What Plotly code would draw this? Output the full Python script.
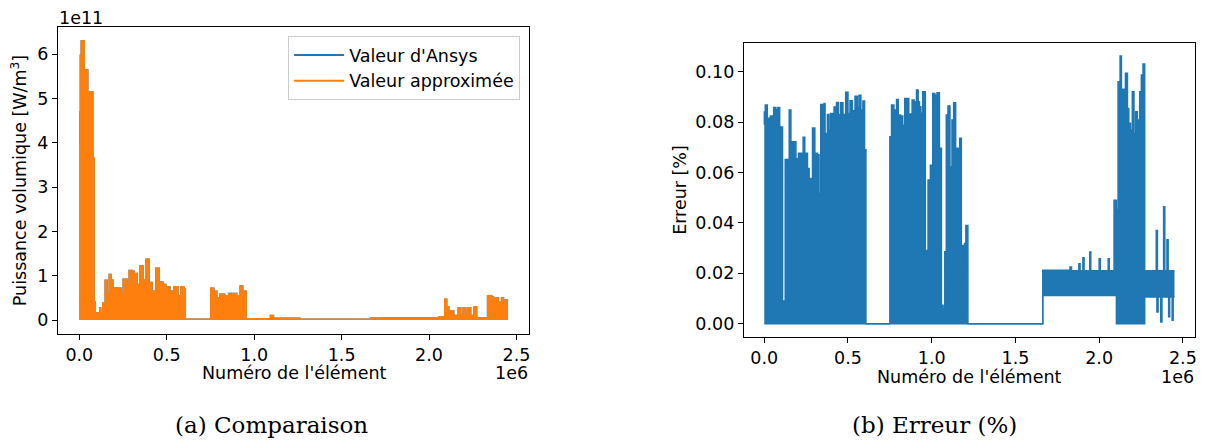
import plotly.graph_objects as go

# ---------------- data ----------------
# Left panel: upper envelope of the volumetric power (x in 1e6 elements, value in 1e11 W/m3)
puis_x = [0.000, 0.003, 0.006, 0.011, 0.028, 0.034, 0.048, 0.054, 0.077, 0.085,
          0.091, 0.108, 0.117, 0.122, 0.134, 0.148, 0.159, 0.171, 0.182, 0.194,
          0.222, 0.239, 0.251, 0.273, 0.285, 0.302, 0.313, 0.330, 0.347, 0.364,
          0.382, 0.399, 0.416, 0.438, 0.456, 0.478, 0.495, 0.518, 0.541, 0.564,
          0.581, 0.598, 0.606, 0.752, 0.769, 0.786, 0.803, 0.831, 0.854, 0.883,
          0.900, 0.920, 0.934, 0.954, 1.093, 1.110, 1.260, 1.667, 2.056, 2.090,
          2.101, 2.113, 2.141, 2.167, 2.181, 2.195, 2.210, 2.221, 2.238, 2.258,
          2.272, 2.335, 2.358, 2.369, 2.380, 2.397, 2.415, 2.426, 2.437, 2.452]
puis_ansys = [4.0, 4.7, 5.98, 6.3, 4.78, 5.65, 3.65, 5.15, 3.65, 0.41,
              0.16, 0.12, 0.27, 0.15, 0.38, 0.9, 0.6, 1.03, 0.9, 0.73,
              0.72, 0.6, 0.92, 0.8, 1.12, 1.1, 1.05, 0.8, 1.22, 0.9,
              1.37, 0.85, 0.65, 1.17, 0.86, 0.8, 0.75, 0.65, 0.75, 0.55,
              0.75, 0.7, 0.02, 0.72, 0.65, 0.5, 0.58, 0.55, 0.6, 0.6,
              0.55, 0.77, 0.65, 0.03, 0.1, 0.04, 0.02, 0.05, 0.07, 0.47,
              0.3, 0.21, 0.1, 0.27, 0.1, 0.27, 0.1, 0.28, 0.1, 0.3,
              0.05, 0.55, 0.52, 0.45, 0.5, 0.4, 0.5, 0.4, 0.45, 0.45]
puis_approx = [4.0, 4.7, 5.98, 6.3, 4.78, 5.65, 3.65, 5.15, 3.65, 0.41,
               0.16, 0.12, 0.27, 0.15, 0.38, 0.9, 0.6, 1.03, 0.9, 0.73,
               0.72, 0.6, 0.92, 0.8, 1.12, 1.1, 1.05, 0.8, 1.22, 0.9,
               1.37, 0.85, 0.65, 1.17, 0.86, 0.8, 0.75, 0.65, 0.75, 0.55,
               0.75, 0.7, 0.02, 0.72, 0.65, 0.5, 0.58, 0.55, 0.6, 0.6,
               0.55, 0.77, 0.65, 0.03, 0.1, 0.04, 0.02, 0.05, 0.07, 0.47,
               0.3, 0.21, 0.1, 0.27, 0.1, 0.27, 0.1, 0.28, 0.1, 0.3,
               0.05, 0.55, 0.52, 0.45, 0.5, 0.4, 0.5, 0.4, 0.45, 0.45]

# Right panel: upper / lower envelope of the error (%)
err_hi_x = [0.000, 0.0004, 0.006, 0.018, 0.036, 0.056, 0.069, 0.081, 0.092, 0.096,
            0.109, 0.125, 0.149, 0.159, 0.165, 0.189, 0.204, 0.232, 0.242, 0.258,
            0.268, 0.282, 0.288, 0.302, 0.318, 0.327, 0.337, 0.357, 0.363, 0.377,
            0.387, 0.397, 0.417, 0.431, 0.443, 0.456, 0.470, 0.486, 0.500, 0.512,
            0.526, 0.542, 0.556, 0.566, 0.577, 0.589, 0.599, 0.607, 0.750, 0.760,
            0.774, 0.790, 0.800, 0.814, 0.827, 0.839, 0.863, 0.869, 0.883, 0.895,
            0.909, 0.919, 0.927, 0.935, 0.946, 0.962, 0.968, 0.978, 0.992, 1.006,
            1.018, 1.032, 1.046, 1.058, 1.068, 1.078, 1.087, 1.097, 1.109, 1.121,
            1.131, 1.143, 1.149, 1.167, 1.177, 1.190, 1.196, 1.204, 1.216, 1.663,
            1.826, 1.835, 1.879, 1.886, 1.903, 1.910, 1.944, 1.950, 2.000, 2.007,
            2.054, 2.060, 2.089, 2.103, 2.113, 2.125, 2.133, 2.139, 2.157, 2.169,
            2.177, 2.187, 2.198, 2.208, 2.218, 2.228, 2.242, 2.252, 2.262, 2.272,
            2.341, 2.348, 2.385, 2.392, 2.405, 2.412, 2.450]
err_hi_v = [0.079, 0.084, 0.0868, 0.0815, 0.0824, 0.0858, 0.0850, 0.0858, 0.009, 0.0781,
            0.009, 0.0652, 0.0848, 0.060, 0.0722, 0.0655, 0.0676, 0.074, 0.0676, 0.0616,
            0.0576, 0.0516, 0.0777, 0.0676, 0.067, 0.0517, 0.087, 0.0874, 0.0755, 0.083,
            0.077, 0.0834, 0.086, 0.0878, 0.083, 0.0877, 0.083, 0.0919, 0.0834, 0.0885,
            0.0845, 0.0903, 0.0858, 0.0907, 0.0848, 0.0884, 0.069, 0.0, 0.0742, 0.0868,
            0.0848, 0.089, 0.0828, 0.0824, 0.0788, 0.0894, 0.0755, 0.0832, 0.0888, 0.0881,
            0.0927, 0.0881, 0.0861, 0.0835, 0.0920, 0.0219, 0.029, 0.057, 0.0629, 0.0914,
            0.0908, 0.0917, 0.0696, 0.0073, 0.006, 0.0285, 0.0828, 0.0864, 0.0623, 0.0808,
            0.0877, 0.014, 0.0696, 0.0736, 0.031, 0.025, 0.0318, 0.039, 0.0, 0.0212,
            0.0225, 0.021, 0.0238, 0.021, 0.0262, 0.021, 0.0284, 0.021, 0.0258, 0.021,
            0.0258, 0.021, 0.049, 0.0453, 0.096, 0.1062, 0.0755, 0.093, 0.0994, 0.0854,
            0.0795, 0.0769, 0.092, 0.0755, 0.0841, 0.0808, 0.092, 0.0987, 0.1031, 0.021,
            0.037, 0.021, 0.0464, 0.021, 0.0333, 0.021, 0.021]
err_lo_x = [0.000, 1.663, 2.103, 2.272, 2.345, 2.352, 2.368, 2.375, 2.415, 2.421,
            2.436, 2.442, 2.450]
err_lo_v = [0.0, 0.0112, 0.0, 0.0106, 0.0046, 0.0106, 0.0007, 0.0106, 0.0027, 0.0106,
            0.0013, 0.0106, 0.0106]

x_ticks = [0.0, 0.5, 1.0, 1.5, 2.0, 2.5]
y_ticks_left = [0, 1, 2, 3, 4, 5, 6]
y_ticks_right = [0.00, 0.02, 0.04, 0.06, 0.08, 0.10]

assert len(puis_x) == len(puis_ansys) == len(puis_approx)
assert len(err_hi_x) == len(err_hi_v)
assert len(err_lo_x) == len(err_lo_v)

BLUE = "#1f77b4"
ORANGE = "#ff7f0e"
FONT = "DejaVu Sans"
FS = 17.5
OFF = 8                      # default page body margin in the browser
W, H = 1205 - OFF, 443 - OFF

fig = go.Figure()

# ---- left panel ----
fig.add_trace(go.Scatter(x=puis_x, y=puis_ansys, mode="lines", line=dict(color=BLUE, width=1.5, shape="hv"),
                         fill="tozeroy", fillcolor=BLUE, showlegend=False, xaxis="x", yaxis="y"))
fig.add_trace(go.Scatter(x=puis_x, y=puis_approx, mode="lines", line=dict(color=ORANGE, width=1.5, shape="hv"),
                         fill="tozeroy", fillcolor=ORANGE, showlegend=False, xaxis="x", yaxis="y"))
fig.add_trace(go.Scatter(x=[None], y=[None], mode="lines", name="Valeur d'Ansys",
                         line=dict(color=BLUE, width=2), xaxis="x", yaxis="y"))
fig.add_trace(go.Scatter(x=[None], y=[None], mode="lines", name="Valeur approximée",
                         line=dict(color=ORANGE, width=2), xaxis="x", yaxis="y"))

# ---- right panel ----
fig.add_trace(go.Scatter(x=err_lo_x, y=err_lo_v, mode="lines", line=dict(color=BLUE, width=1.5, shape="hv"),
                         showlegend=False, xaxis="x2", yaxis="y2"))
fig.add_trace(go.Scatter(x=err_hi_x, y=err_hi_v, mode="lines", line=dict(color=BLUE, width=1.5, shape="hv"),
                         fill="tonexty", fillcolor=BLUE, showlegend=False, xaxis="x2", yaxis="y2"))

# axes geometry in page pixels (left, right, top, bottom)
L1 = (58, 530, 27, 334)
R1 = (745, 1197, 43, 337)


def px(x):
    return (x - OFF) / W


def py(y):
    return 1 - (y - OFF) / H


def dom(b):
    x0, x1, y0, y1 = b
    return [px(x0), px(x1)], [py(y1), py(y0)]


lx, ly = dom(L1)
rx, ry = dom(R1)

axis_common = dict(showline=True, linecolor="black", linewidth=1, mirror=True,
                   ticks="outside", ticklen=5, tickwidth=1, tickcolor="black",
                   showgrid=False, zeroline=False,
                   tickfont=dict(family=FONT, size=FS, color="black"))

fig.update_layout(
    width=W, height=H,
    margin=dict(l=0, r=0, t=0, b=0),
    paper_bgcolor="white", plot_bgcolor="white",
    font=dict(family=FONT, size=FS, color="black"),
    xaxis=dict(domain=lx, anchor="y", range=[-0.1225, 2.5725], tickvals=x_ticks,
               tickformat=".1f", **axis_common),
    yaxis=dict(domain=ly, anchor="x", range=[-0.315, 6.615], tickvals=y_ticks_left,
               tickformat="d",
               title=dict(text="Puissance volumique [W/m<sup>3</sup>]", font=dict(size=FS), standoff=10),
               **axis_common),
    xaxis2=dict(domain=rx, anchor="y2", range=[-0.1225, 2.5725], tickvals=x_ticks,
                tickformat=".1f", **axis_common),
    yaxis2=dict(domain=ry, anchor="x2", range=[-0.0053, 0.1114], tickvals=y_ticks_right,
                tickformat=".2f",
                title=dict(text="Erreur [%]", font=dict(size=FS), standoff=4),
                **axis_common),
    legend=dict(x=px(521), xanchor="right", y=py(36), yanchor="top", traceorder="normal",
                bgcolor="rgba(255,255,255,0.8)", bordercolor="#cccccc", borderwidth=1,
                font=dict(family=FONT, size=FS), tracegroupgap=0, itemwidth=50),
    showlegend=True,
)

ann = [
    dict(text="1e11", x=px(L1[0]), y=py(L1[2]), xanchor="left", yanchor="bottom", yshift=-2),
    dict(text="1e6", x=px(L1[1]), y=py(373), xanchor="right", yanchor="middle"),
    dict(text="1e6", x=px(R1[1]), y=py(377), xanchor="right", yanchor="middle"),
    dict(text="Numéro de l'élément", x=px((L1[0] + L1[1]) / 2), y=py(373), xanchor="center", yanchor="middle"),
    dict(text="Numéro de l'élément", x=px((R1[0] + R1[1]) / 2), y=py(377), xanchor="center", yanchor="middle"),
]
for a in ann:
    fig.add_annotation(xref="paper", yref="paper", showarrow=False, borderpad=0,
                       font=dict(family=FONT, size=FS, color="black"), **a)

fig.add_annotation(text="(a) Comparaison", xref="paper", yref="paper", x=px(272), y=py(425),
                   xanchor="center", yanchor="middle", showarrow=False,
                   font=dict(family="DejaVu Serif", size=23, color="black"))
fig.add_annotation(text="(b) Erreur (%)", xref="paper", yref="paper", x=px(936), y=py(425),
                   xanchor="center", yanchor="middle", showarrow=False,
                   font=dict(family="DejaVu Serif", size=23, color="black"))

fig.write_html("out.html")
